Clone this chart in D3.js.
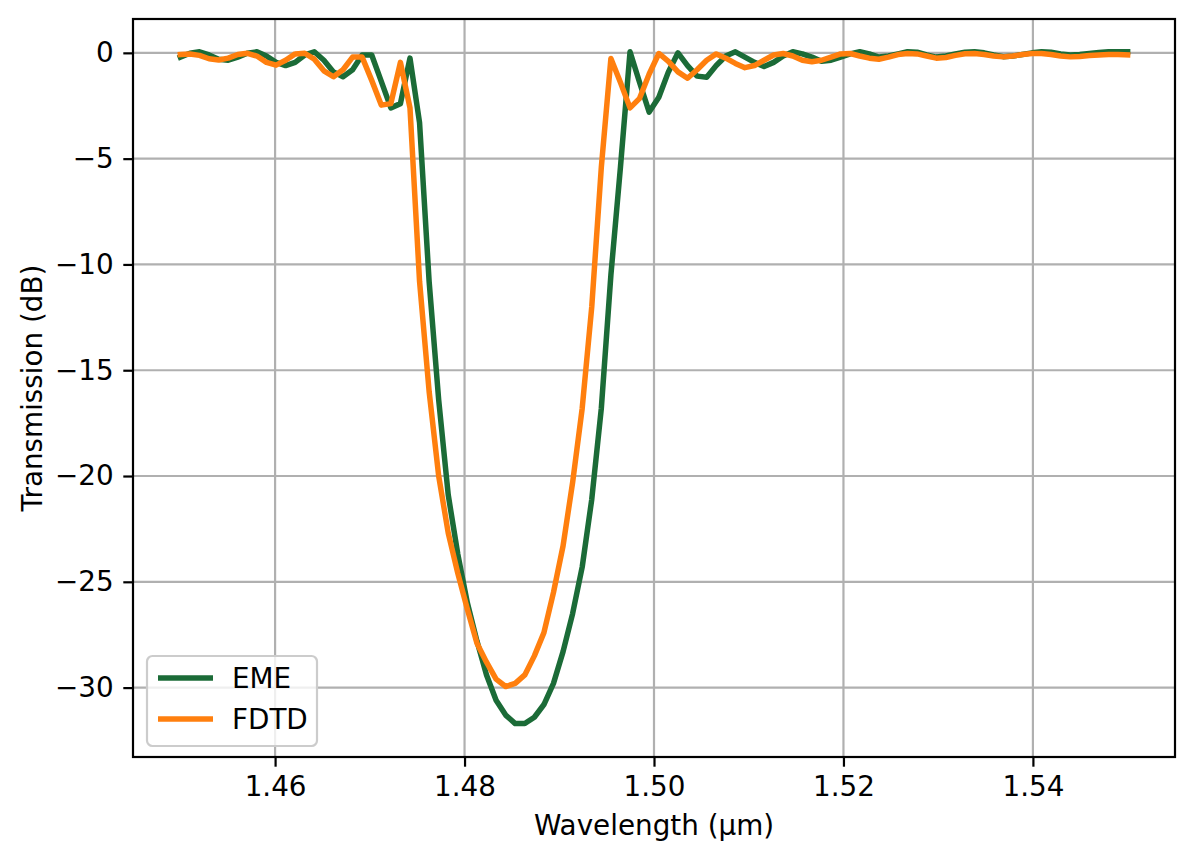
<!DOCTYPE html>
<html>
<head>
<meta charset="utf-8">
<script type="text/javascript" src="https://d3js.org/d3.v7.min.js"></script>
<title>EME vs FDTD transmission</title>
<style>
  body { margin:0; background:#fff; }
  svg text { font-family:"DejaVu Sans", sans-serif; fill:#000; }
</style>
</head>
<body>
<div id="chart"></div>

<script type="text/javascript">
// wavelength samples (um)
var wavelength = [
  1.45000,1.45101,1.45202,1.45303,1.45404,1.45505,1.45606,1.45707,1.45808,1.45909,
  1.46010,1.46111,1.46212,1.46313,1.46414,1.46515,1.46616,1.46717,1.46818,1.46919,
  1.47020,1.47121,1.47222,1.47323,1.47424,1.47525,1.47626,1.47727,1.47828,1.47929,
  1.48030,1.48131,1.48232,1.48333,1.48434,1.48535,1.48636,1.48737,1.48838,1.48939,
  1.49040,1.49141,1.49242,1.49343,1.49444,1.49545,1.49646,1.49747,1.49848,1.49949,
  1.50051,1.50152,1.50253,1.50354,1.50455,1.50556,1.50657,1.50758,1.50859,1.50960,
  1.51061,1.51162,1.51263,1.51364,1.51465,1.51566,1.51667,1.51768,1.51869,1.51970,
  1.52071,1.52172,1.52273,1.52374,1.52475,1.52576,1.52677,1.52778,1.52879,1.52980,
  1.53081,1.53182,1.53283,1.53384,1.53485,1.53586,1.53687,1.53788,1.53889,1.53990,
  1.54091,1.54192,1.54293,1.54394,1.54495,1.54596,1.54697,1.54798,1.54899,1.55000
];

// transmission in dB
var emeDb = [
  -0.2,-0.02,0.05,-0.1,-0.3,-0.35,-0.2,-0.02,0.05,-0.15,
  -0.45,-0.6,-0.45,-0.1,0.05,-0.35,-0.9,-1.13,-0.8,-0.1,
  -0.1,-1.35,-2.6,-2.4,-0.25,-3.3,-10.8,-16.4,-20.9,-23.7,
  -26.0,-27.8,-29.4,-30.6,-31.3,-31.7,-31.7,-31.4,-30.8,-29.8,
  -28.3,-26.5,-24.3,-21.1,-16.8,-10.5,-5.4,0.05,-1.4,-2.8,
  -2.1,-0.9,0.0,-0.6,-1.1,-1.15,-0.6,-0.15,0.05,-0.2,
  -0.45,-0.65,-0.45,-0.15,0.05,-0.05,-0.2,-0.4,-0.35,-0.2,
  -0.05,0.05,-0.05,-0.2,-0.15,-0.05,0.05,0.03,-0.1,-0.2,
  -0.15,-0.05,0.03,0.05,0.0,-0.1,-0.18,-0.15,-0.08,0.0,
  0.05,0.03,-0.05,-0.1,-0.08,-0.03,0.02,0.05,0.05,0.05
];

var fdtdDb = [
  -0.08,-0.05,-0.12,-0.28,-0.34,-0.25,-0.08,-0.02,-0.15,-0.45,
  -0.58,-0.35,-0.05,-0.02,-0.3,-0.85,-1.13,-0.8,-0.2,-0.2,
  -1.3,-2.47,-2.4,-0.45,-2.6,-10.8,-16.0,-20.0,-22.7,-24.6,
  -26.3,-27.9,-28.8,-29.6,-29.95,-29.8,-29.4,-28.5,-27.4,-25.5,
  -23.3,-20.3,-16.8,-12.0,-5.4,-0.27,-1.4,-2.6,-2.15,-1.0,
  -0.03,-0.4,-0.9,-1.2,-0.8,-0.35,-0.05,-0.25,-0.5,-0.7,
  -0.6,-0.35,-0.1,-0.03,-0.15,-0.35,-0.42,-0.35,-0.2,-0.05,
  -0.03,-0.15,-0.25,-0.3,-0.2,-0.08,-0.03,-0.05,-0.15,-0.25,
  -0.22,-0.12,-0.04,-0.03,-0.08,-0.15,-0.19,-0.15,-0.08,-0.03,
  -0.03,-0.08,-0.15,-0.19,-0.17,-0.13,-0.1,-0.08,-0.08,-0.1
];

var seriesNames = ["EME", "FDTD"];
var xTicks = [1.46, 1.48, 1.50, 1.52, 1.54];
var yTicks = [0, -5, -10, -15, -20, -25, -30];

(function(){

  var W = 1193, H = 861;
  var left = 133, right = 1175, top = 19, bottom = 757;
  var fs = 27.8;          // 10pt at 200 dpi
  var tickLen = 9.7, tickPad = 9.7;
  var colors = ["#1b6b37", "#ff7f0e"];
  var lw = 5.5;

  var svg = d3.select("#chart").append("svg")
      .attr("width", W).attr("height", H);

  var x = d3.scaleLinear().domain([1.445, 1.555]).range([left, right]);
  var y = d3.scaleLinear().domain([-33.28, 1.6]).range([bottom, top]);

  // grid
  svg.append("g").selectAll("line").data(xTicks).enter().append("line")
     .attr("x1", function(d){ return x(d); }).attr("x2", function(d){ return x(d); })
     .attr("y1", top).attr("y2", bottom)
     .attr("stroke", "#b0b0b0").attr("stroke-width", 2.2);
  svg.append("g").selectAll("line").data(yTicks).enter().append("line")
     .attr("y1", function(d){ return y(d); }).attr("y2", function(d){ return y(d); })
     .attr("x1", left).attr("x2", right)
     .attr("stroke", "#b0b0b0").attr("stroke-width", 2.2);

  // series
  var series = [emeDb, fdtdDb];
  var line = d3.line()
      .x(function(d, i){ return x(wavelength[i]); })
      .y(function(d){ return y(d); });

  series.forEach(function(s, j){
    svg.append("path")
       .attr("d", line(s))
       .attr("fill", "none")
       .attr("stroke", colors[j])
       .attr("stroke-width", lw)
       .attr("stroke-linejoin", "round")
       .attr("stroke-linecap", "square");
  });

  // axes
  var xAxis = d3.axisBottom(x).tickValues(xTicks)
      .tickFormat(d3.format(".2f")).tickSize(tickLen).tickPadding(tickPad);
  var yAxis = d3.axisLeft(y).tickValues(yTicks)
      .tickFormat(function(d){ return d < 0 ? "\u2212" + Math.abs(d) : d; })
      .tickSize(tickLen).tickPadding(tickPad);

  var gx = svg.append("g").attr("transform", "translate(0," + bottom + ")").call(xAxis);
  var gy = svg.append("g").attr("transform", "translate(" + left + ",0)").call(yAxis);
  [gx, gy].forEach(function(g){
    g.select(".domain").remove();
    g.selectAll(".tick line").attr("stroke", "#000").attr("stroke-width", 2.2);
    g.selectAll(".tick text").attr("font-size", fs)
     .attr("font-family", "DejaVu Sans").attr("fill", "#000");
  });

  // frame
  svg.append("rect")
     .attr("x", left).attr("y", top)
     .attr("width", right-left).attr("height", bottom-top)
     .attr("fill", "none").attr("stroke", "#000").attr("stroke-width", 2.2);

  // labels
  svg.append("text")
     .attr("x", (left+right)/2).attr("y", 835)
     .attr("text-anchor", "middle").attr("font-size", fs)
     .text("Wavelength (\u00b5m)");
  svg.append("text")
     .attr("transform", "translate(42," + (top+bottom)/2 + ") rotate(-90)")
     .attr("text-anchor", "middle").attr("font-size", fs)
     .text("Transmission (dB)");

  // legend
  var lg = svg.append("g");
  lg.append("rect")
    .attr("x", 147).attr("y", 656).attr("width", 170).attr("height", 90)
    .attr("rx", 5.5).attr("ry", 5.5)
    .attr("fill", "#fff").attr("fill-opacity", 0.8)
    .attr("stroke", "#cccccc").attr("stroke-width", 2.2);
  seriesNames.forEach(function(n, j){
    var ly = 678 + j*41;
    lg.append("line")
      .attr("x1", 158).attr("x2", 213).attr("y1", ly).attr("y2", ly)
      .attr("stroke", colors[j]).attr("stroke-width", lw);
    lg.append("text")
      .attr("x", 232).attr("y", ly + 10)
      .attr("font-size", fs)
      .text(n);
  });

})();
</script>
</body>
</html>
